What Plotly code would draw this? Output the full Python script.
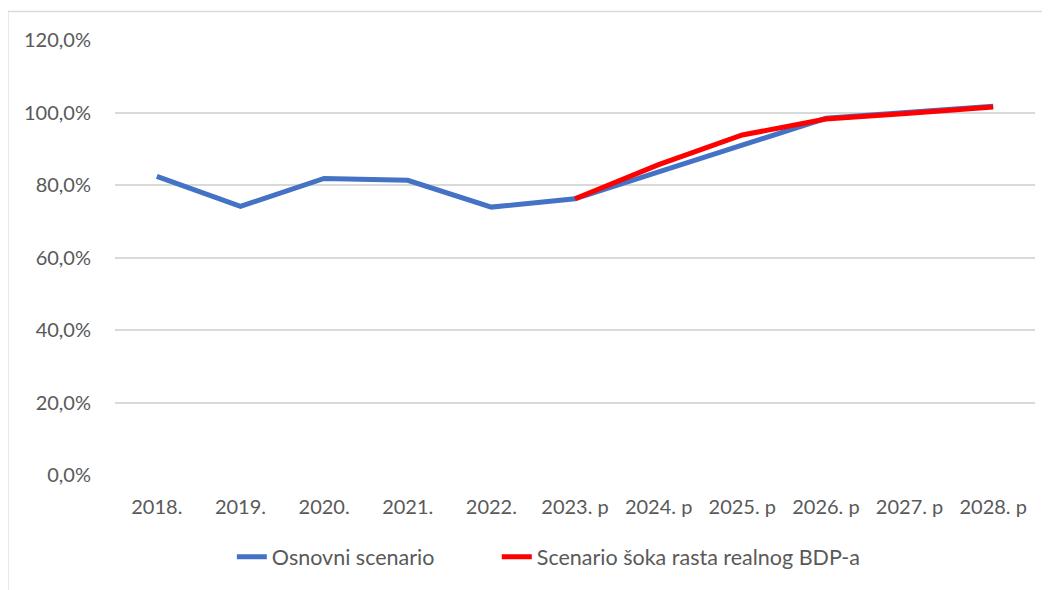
import plotly.graph_objects as go

categories = ["2018.", "2019.", "2020.", "2021.", "2022.", "2023. p", "2024. p",
              "2025. p", "2026. p", "2027. p", "2028. p"]
osnovni = [82.4, 74.1, 81.8, 81.3, 73.9, 76.2, 83.6, 91.1, 98.4, 100.1, 101.7]
sok = [None, None, None, None, None, 76.2, 85.6, 93.8, 98.2, 99.8, 101.5]
y_ticks = [0, 20, 40, 60, 80, 100, 120]
y_tick_text = ["0,0%", "20,0%", "40,0%", "60,0%", "80,0%", "100,0%", "120,0%"]

FONT = "Lato, Open Sans, sans-serif"
GREY = "#595959"

fig = go.Figure()
fig.add_trace(go.Scatter(x=categories, y=osnovni, mode="lines", name="Osnovni scenario",
                         line=dict(color="#4472C4", width=5), legend="legend"))
fig.add_trace(go.Scatter(x=categories, y=sok, mode="lines", name="Scenario šoka rasta realnog BDP-a",
                         line=dict(color="#FF0000", width=5), connectgaps=False, legend="legend2"))

leg_common = dict(orientation="h", xanchor="left", y=-0.188, yanchor="middle",
                  font=dict(family=FONT, size=21.5, color=GREY), bgcolor="rgba(0,0,0,0)")

fig.update_layout(
    width=1042, height=582,
    margin=dict(l=107, r=15, t=32, b=115, autoexpand=False),
    paper_bgcolor="white", plot_bgcolor="white",
    font=dict(family=FONT, size=20, color=GREY),
    showlegend=True,
    legend=dict(x=0.127, **leg_common),
    legend2=dict(x=0.415, **leg_common),
    xaxis=dict(type="category", range=[-0.5, 10.5], showgrid=False, showline=False,
               ticks="outside", ticklen=14, tickcolor="rgba(0,0,0,0)",
               tickfont=dict(family=FONT, size=20, color=GREY)),
    yaxis=dict(range=[0, 120], tickmode="array", tickvals=y_ticks, ticktext=y_tick_text,
               showgrid=True, gridcolor="#D9D9D9", gridwidth=1.5, zeroline=False,
               showline=False, ticks="outside", ticklen=19, tickcolor="rgba(0,0,0,0)",
               tickfont=dict(family=FONT, size=20, color=GREY)),
    shapes=[dict(type="rect", xref="paper", yref="paper", x0=-0.1165, x1=1.2, y0=-0.6, y1=1.0656,
                 line=dict(color="#D9D9D9", width=1.5), fillcolor="rgba(0,0,0,0)", layer="below")],
)

fig.write_html("out.html")
